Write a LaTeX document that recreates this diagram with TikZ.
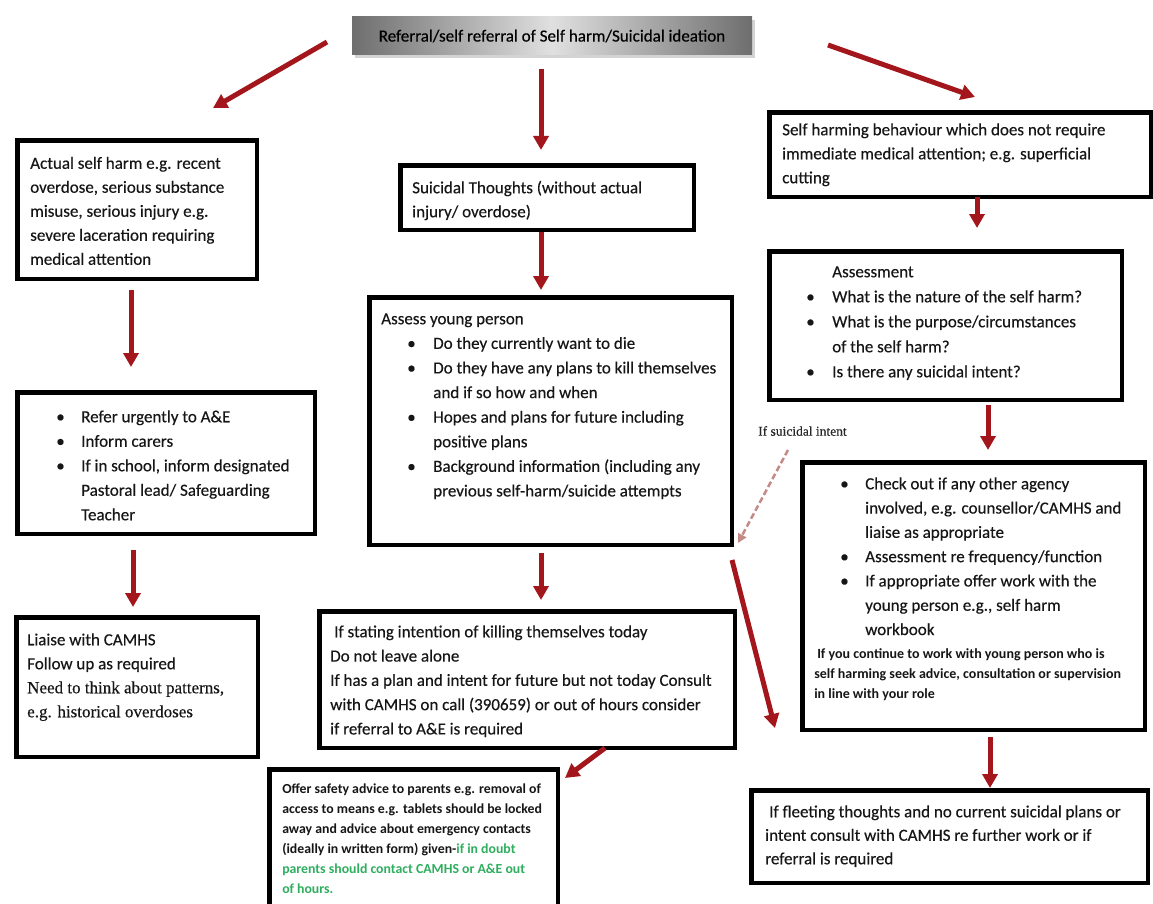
\documentclass[tikz,border=0pt]{standalone}
\usepackage{fontspec}
\setmainfont{Carlito}[UprightFeatures={FakeBold=0.35}]
\newfontfamily\serifF{Liberation Serif}[FakeBold=0.35]
\usetikzlibrary{arrows.meta,shadows}
\definecolor{arrred}{HTML}{A3161C}
\definecolor{dashred}{HTML}{C48A86}
\definecolor{txt}{HTML}{161616}
\definecolor{grn}{HTML}{2FAE5F}
\definecolor{tedge}{HTML}{6E6E6E}
\definecolor{tmid}{HTML}{E0E0E0}
\newcommand\Bl[3]{\hspace*{#1pt}\makebox[#2pt][l]{\textbullet}#3}
\begin{document}
\begin{tikzpicture}[x=1pt,y=-1pt,
  box/.style={draw=black, line width=4.5pt, fill=white, inner ysep=0pt, anchor=north west, text=txt},
  arr/.style={draw=arrred, line width=5pt, -{Triangle[width=15pt,length=14pt]}},
  dasharr/.style={draw=dashred, line width=2.5pt, dash pattern=on 6pt off 3pt, -{Triangle[width=9pt,length=9pt]}},
  titlebox/.style={minimum width=400pt, minimum height=38pt, inner sep=0pt,
    left color=tedge, right color=tedge, middle color=tmid,
    drop shadow={shadow xshift=3pt, shadow yshift=-3pt, opacity=0.35},
    font=\fontsize{17}{20}\selectfont, text=black},
  lbl/.style={font=\serifF\fontsize{13.5}{15}\selectfont, text=black!85, inner sep=0pt, anchor=west}]
\useasboundingbox (0,0) rectangle (1153,904);

% title
\node[titlebox] (T) at (552,36) {Referral/self referral of Self harm/Suicidal ideation};

% left column
\node[box, inner xsep=12.75pt] (L1) at (15.25,138.25) {\parbox[c][138.5pt][t]{214pt}{\fontsize{17}{24}\selectfont
\mbox{\rule{0pt}{28.25pt}Actual self harm e.g. recent}\\
\mbox{overdose, serious substance}\\
\mbox{misuse, serious injury e.g.}\\
\mbox{severe laceration requiring}\\
\mbox{medical attention}}};

\node[box, inner xsep=10pt] (L2) at (15.25,390.25) {\parbox[c][141.5pt][t]{277.5pt}{\fontsize{17}{24.5}\selectfont
\mbox{\rule{0pt}{29.75pt}\Bl{28.75}{25}{Refer urgently to A\&E}}\\
\mbox{\Bl{28.75}{25}{Inform carers}}\\
\mbox{\Bl{28.75}{25}{If in school, inform designated}}\\
\mbox{\hspace*{53.75pt}Pastoral lead/ Safeguarding}\\
\mbox{\hspace*{53.75pt}Teacher}}};

\node[box, inner xsep=10.75pt] (L3) at (14.25,615.25) {\parbox[c][139.5pt][t]{220pt}{\fontsize{17}{24}\selectfont
\mbox{\rule{0pt}{27.75pt}Liaise with CAMHS}\\
\mbox{Follow up as required}\\
\mbox{\serifF Need to think about patterns,}\\
\mbox{\serifF e.g. historical overdoses}}};

% middle column
\node[box, inner xsep=11.75pt] (M1) at (398.25,163.25) {\parbox[c][64.5pt][t]{270pt}{\fontsize{17}{24}\selectfont
\mbox{\rule{0pt}{27.75pt}Suicidal Thoughts (without actual}\\
\mbox{injury/ overdose)}}};

\node[box, inner xsep=11.75pt] (M2) at (367.25,295.25) {\parbox[c][247.5pt][t]{339pt}{\fontsize{17}{24.6}\selectfont
\mbox{\rule{0pt}{26.75pt}Assess young person}\\
\mbox{\Bl{26}{26}{Do they currently want to die}}\\
\mbox{\Bl{26}{26}{Do they have any plans to kill themselves}}\\
\mbox{\hspace*{52pt}and if so how and when}\\
\mbox{\Bl{26}{26}{Hopes and plans for future including}}\\
\mbox{\hspace*{52pt}positive plans}\\
\mbox{\Bl{26}{26}{Background information (including any}}\\
\mbox{\hspace*{52pt}previous self-harm/suicide attempts}}};

\node[box, inner xsep=10.75pt] (M3) at (317.25,609.25) {\parbox[c][136.5pt][t]{394pt}{\fontsize{17}{24.3}\selectfont
\mbox{\rule{0pt}{25.75pt}\hspace*{4pt}If stating intention of killing themselves today}\\
\mbox{Do not leave alone}\\
\mbox{If has a plan and intent for future but not today Consult}\\
\mbox{with CAMHS on call (390659) or out of hours consider}\\
\mbox{if referral to A\&E is required}}};

\node[box, inner xsep=12.75pt] (BM) at (267.25,767.25) {\parbox[c][150pt][t]{263pt}{\fontsize{13.8}{20}\selectfont\bfseries
\mbox{\rule{0pt}{23.75pt}Offer safety advice to parents e.g. removal of}\\
\mbox{access to means e.g. tablets should be locked}\\
\mbox{away and advice about emergency contacts}\\
\mbox{(ideally in written form) given-{\color{grn}if in doubt}}\\
\mbox{\color{grn}parents should contact CAMHS or A\&E out}\\
\mbox{\color{grn}of hours.}}};

% right column
\node[box, inner xsep=12.75pt] (R1) at (767.25,110.25) {\parbox[c][84.5pt][t]{356pt}{\fontsize{17}{24}\selectfont
\mbox{\rule{0pt}{22.75pt}Self harming behaviour which does not require}\\
\mbox{immediate medical attention; e.g. superficial}\\
\mbox{cutting}}};

\node[box, inner xsep=36.75pt] (R2) at (767.25,249.25) {\parbox[c][148.5pt][t]{279pt}{\fontsize{17}{25}\selectfont
\mbox{\rule{0pt}{25.75pt}\hspace*{26pt}Assessment}\\
\mbox{\Bl{0}{26}{What is the nature of the self harm?}}\\
\mbox{\Bl{0}{26}{What is the purpose/circumstances}}\\
\mbox{\hspace*{26pt}of the self harm?}\\
\mbox{\Bl{0}{26}{Is there any suicidal intent?}}}};

\node[box, inner xsep=11.75pt] (R3) at (800.25,460.25) {\parbox[c][267.5pt][t]{319pt}{\fontsize{17}{24.3}\selectfont
\mbox{\rule{0pt}{26.75pt}\Bl{26}{25}{Check out if any other agency}}\\
\mbox{\hspace*{51pt}involved, e.g. counsellor/CAMHS and}\\
\mbox{\hspace*{51pt}liaise as appropriate}\\
\mbox{\Bl{26}{25}{Assessment re frequency/function}}\\
\mbox{\Bl{26}{25}{If appropriate offer work with the}}\\
\mbox{\hspace*{51pt}young person e.g., self harm}\\
\mbox{\hspace*{51pt}workbook}\par
\vspace{3.2pt}\fontsize{14}{20}\selectfont\bfseries
\mbox{\hspace*{3pt}If you continue to work with young person who is}\\
\mbox{self harming seek advice, consultation or supervision}\\
\mbox{in line with your role}\par}};

\node[box, inner xsep=13.75pt] (BR) at (749.25,788.25) {\parbox[c][92.5pt][t]{369pt}{\fontsize{17}{23.5}\selectfont
\mbox{\rule{0pt}{26.75pt}\hspace*{4pt}If fleeting thoughts and no current suicidal plans or}\\
\mbox{intent consult with CAMHS re further work or if}\\
\mbox{referral is required}}};

\node[lbl] (si) at (758,431) {If suicidal intent};

% connector end points
\coordinate (a1s) at (327,42);   \coordinate (a1e) at (213,108);
\coordinate (a2s) at (541,69);   \coordinate (a2e) at (541,150);
\coordinate (a3s) at (828,45);   \coordinate (a3e) at (975,97);
\coordinate (a4s) at (131,290);  \coordinate (a4e) at (131,367);
\coordinate (a5s) at (133,550);  \coordinate (a5e) at (133,607);
\coordinate (a6s) at (541,232);  \coordinate (a6e) at (541,290);
\coordinate (a7s) at (541,553);  \coordinate (a7e) at (541,600);
\coordinate (a8s) at (977,197);  \coordinate (a8e) at (977,228);
\coordinate (a9s) at (988,405);  \coordinate (a9e) at (988,450);
\coordinate (a10s) at (990,737); \coordinate (a10e) at (990,788);
\coordinate (a11s) at (788,450); \coordinate (a11e) at (738,543);
\coordinate (a12s) at (732,560); \coordinate (a12e) at (775,728);
\coordinate (a13s) at (605,748); \coordinate (a13e) at (565,778);

\draw[arr] (a1s) -- (a1e);
\draw[arr] (a2s) -- (a2e);
\draw[arr] (a3s) -- (a3e);
\draw[arr] (a4s) -- (a4e);
\draw[arr] (a5s) -- (a5e);
\draw[arr] (a6s) -- (a6e);
\draw[arr] (a7s) -- (a7e);
\draw[arr] (a8s) -- (a8e);
\draw[arr] (a9s) -- (a9e);
\draw[arr] (a10s) -- (a10e);
\draw[dasharr] (a11s) -- (a11e);
\draw[arr] (a12s) -- (a12e);
\draw[arr] (a13s) -- (a13e);
\end{tikzpicture}
\end{document}
